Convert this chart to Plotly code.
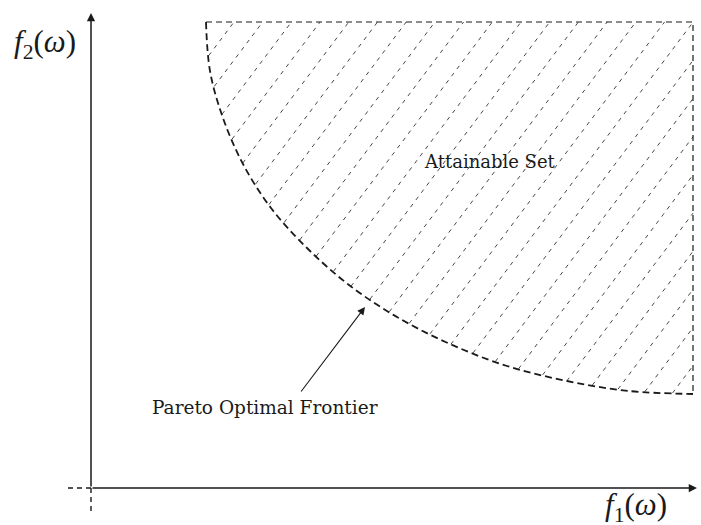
import numpy as np
import plotly.graph_objects as go

# Pareto optimal frontier in objective space (f1, f2)
frontier_f1 = [115, 119, 132, 152, 180, 216, 258, 306, 359, 416, 476, 538, 602]
frontier_f2 = [466, 417, 370, 324, 280, 240, 203, 171, 144, 122, 107, 97, 94]

# Upper bounds of the attainable set
set_f1_max = 602
set_f2_max = 466

# Axis extents (arrow tips) and the short dashed stubs past the origin
axis_f1_end = 606
axis_f2_end = 475
stub_f1 = -23
stub_f2 = -24

# Text
x_label = "<i>f</i><sub>1</sub>(<i>ω</i>)"
y_label = "<i>f</i><sub>2</sub>(<i>ω</i>)"
set_label = "Attainable Set"
frontier_label = "Pareto Optimal Frontier"

# Hatching style for the attainable set
HATCH_SLOPE = 1.33
HATCH_STEP = 28.7
HATCH_START = 143

SERIF = "DejaVu Serif, serif"
MATH = "Liberation Serif, Times New Roman, serif"
INK = "#1a1a1a"

fx = np.array(frontier_f1, float)
fy = np.array(frontier_f2, float)


def in_set(x, y):
    return (x >= fx[0]) & (x <= set_f1_max) & (y <= set_f2_max) & (y >= np.interp(x, fx, fy))


hx, hy = [], []
top_end = set_f1_max + (set_f2_max - fy.min()) / HATCH_SLOPE
for xt in np.arange(HATCH_START, top_end, HATCH_STEP):
    ys = np.linspace(fy.min() - 2, set_f2_max, 4000)
    xs = xt - (set_f2_max - ys) / HATCH_SLOPE
    m = in_set(xs, ys)
    if m.sum() < 2:
        continue
    idx = np.nonzero(m)[0]
    hx += [xs[idx[0]], xs[idx[-1]], None]
    hy += [ys[idx[0]], ys[idx[-1]], None]

fig = go.Figure()

# hatching
fig.add_trace(go.Scatter(x=hx, y=hy, mode="lines", hoverinfo="skip",
                         line=dict(color="#333333", width=0.9, dash="4px,5px")))

# upper and right bounds of the attainable set
fig.add_trace(go.Scatter(x=[frontier_f1[0], set_f1_max, set_f1_max],
                         y=[set_f2_max, set_f2_max, frontier_f2[-1]],
                         mode="lines", hoverinfo="skip",
                         line=dict(color=INK, width=1.2, dash="6px,4px")))

# Pareto frontier
fig.add_trace(go.Scatter(x=frontier_f1, y=frontier_f2, mode="lines", hoverinfo="skip",
                         line=dict(color=INK, width=1.8, dash="7px,4px", shape="spline")))

# dashed stubs through the origin
fig.add_trace(go.Scatter(x=[stub_f1, 0, None, 0, 0], y=[0, 0, None, 0, stub_f2],
                         mode="lines", hoverinfo="skip",
                         line=dict(color=INK, width=1.4, dash="5px,4px")))

annotations = [
    # axes as arrows
    dict(x=axis_f1_end, y=0, ax=0, ay=0, xref="x", yref="y", axref="x", ayref="y",
         text="", showarrow=True, arrowhead=2, arrowsize=1.1, arrowwidth=1.5, arrowcolor=INK),
    dict(x=0, y=axis_f2_end, ax=0, ay=0, xref="x", yref="y", axref="x", ayref="y",
         text="", showarrow=True, arrowhead=2, arrowsize=1.1, arrowwidth=1.5, arrowcolor=INK),
    # pointer to the frontier
    dict(x=274, y=181, ax=209, ay=95, xref="x", yref="y", axref="x", ayref="y",
         text="", showarrow=True, arrowhead=2, arrowsize=1.4, arrowwidth=1.1, arrowcolor=INK),
    dict(x=174, y=81, xref="x", yref="y", text=frontier_label, showarrow=False,
         font=dict(family=SERIF, size=18.5, color=INK)),
    dict(x=399, y=327, xref="x", yref="y", text=set_label, showarrow=False,
         font=dict(family=SERIF, size=18, color=INK)),
    dict(x=-46, y=444, xref="x", yref="y", text=y_label, showarrow=False,
         font=dict(family=MATH, size=31, color=INK)),
    dict(x=545, y=-19, xref="x", yref="y", text=x_label, showarrow=False,
         font=dict(family=MATH, size=31, color=INK)),
]

fig.update_layout(
    width=701, height=525,
    margin=dict(l=0, r=0, t=0, b=0),
    paper_bgcolor="white", plot_bgcolor="white",
    showlegend=False,
    xaxis=dict(range=[-91, 610], visible=False, fixedrange=True),
    yaxis=dict(range=[-37, 488], visible=False, fixedrange=True),
    annotations=annotations,
)

fig.write_html("out.html")
